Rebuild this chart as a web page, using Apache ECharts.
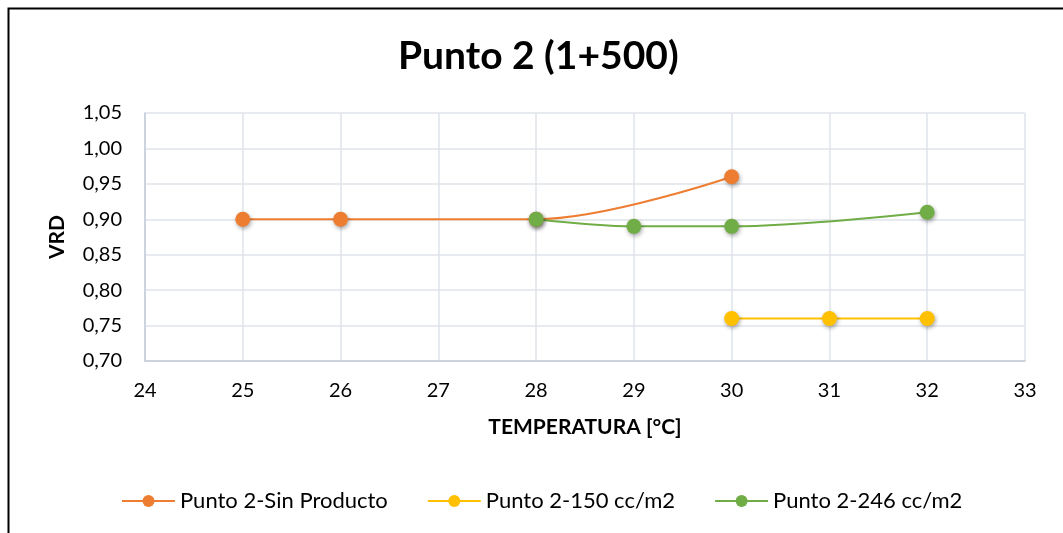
<!DOCTYPE html>
<html>
<head>
<meta charset="utf-8">
<script src="https://cdn.jsdelivr.net/npm/echarts@6/dist/echarts.min.js"></script>
<style>
  html, body { margin: 0; padding: 0; background: #fff; }
  #chart { width: 1063px; height: 533px; }
</style>
</head>
<body>
<div id="chart"></div>
<script>
// VRD vs temperature, three application rates at Punto 2
const sinProductoX = [25, 26, 28, 30];
const sinProductoY = [0.90, 0.90, 0.90, 0.96];
const cc150X = [30, 31, 32];
const cc150Y = [0.76, 0.76, 0.76];
const cc246X = [28, 29, 30, 32];
const cc246Y = [0.90, 0.89, 0.89, 0.91];
const seriesNames = ['Punto 2-Sin Producto', 'Punto 2-150 cc/m2', 'Punto 2-246 cc/m2'];
const seriesColors = ['#ED7D31', '#FFC000', '#70AD47'];

const pairs = (xs, ys) => xs.map((x, i) => [x, ys[i]]);
const FONT = 'Lato, "Open Sans", sans-serif';

function lineSeries(name, color, data) {
  return {
    name, type: 'line', data, smooth: 0.35,
    symbol: 'circle', symbolSize: 15,
    lineStyle: { color, width: 2 },
    itemStyle: {
      color,
      shadowBlur: 4, shadowColor: 'rgba(0,0,0,0.35)',
      shadowOffsetX: 1, shadowOffsetY: 2
    },
    emphasis: { disabled: true }
  };
}

const chart = echarts.init(document.getElementById('chart'), null, { renderer: 'canvas' });
chart.setOption({
  animation: false,
  backgroundColor: '#fff',
  textStyle: { fontFamily: FONT },
  title: {
    text: 'Punto 2 (1+500)',
    left: 393, top: 32,
    textStyle: { fontFamily: FONT, fontSize: 39, fontWeight: 'bold', color: '#000' }
  },
  legend: {
    top: 485, left: 116,
    itemWidth: 53, itemHeight: 15, itemGap: 39,
    textStyle: { fontFamily: FONT, fontSize: 22, color: '#000' },
    data: seriesNames
  },
  grid: { left: 145, right: 38, top: 113, bottom: 172, containLabel: false },
  xAxis: {
    type: 'value', min: 24, max: 33, interval: 1,
    name: 'TEMPERATURA [°C]', nameLocation: 'middle', nameGap: 56,
    nameTextStyle: { fontFamily: FONT, fontSize: 21, fontWeight: 'bold', color: '#000' },
    axisLine: { show: true, lineStyle: { color: '#c3cbd8', width: 1.5 } },
    axisTick: { show: false },
    axisLabel: { fontFamily: FONT, fontSize: 20, color: '#000', margin: 20 },
    splitLine: { show: true, lineStyle: { color: '#dfe3ea', width: 1.5 } }
  },
  yAxis: {
    type: 'value', min: 0.70, max: 1.05, interval: 0.05,
    name: 'VRD', nameLocation: 'middle', nameGap: 77, nameRotate: 90,
    nameTextStyle: { fontFamily: FONT, fontSize: 21, fontWeight: 'bold', color: '#000' },
    axisLine: { show: true, lineStyle: { color: '#c3cbd8', width: 1.5 } },
    axisTick: { show: false },
    axisLabel: {
      fontFamily: FONT, fontSize: 20, color: '#000', margin: 23,
      formatter: v => v.toFixed(2).replace('.', ',')
    },
    splitLine: { show: true, lineStyle: { color: '#dfe3ea', width: 1.5 } }
  },
  graphic: [{
    type: 'rect', silent: true, z: 100,
    shape: { x: 8.5, y: 8.5, width: 1200, height: 700 },
    style: { fill: 'none', stroke: '#000', lineWidth: 2 }
  }],
  series: [
    lineSeries(seriesNames[0], seriesColors[0], pairs(sinProductoX, sinProductoY)),
    lineSeries(seriesNames[1], seriesColors[1], pairs(cc150X, cc150Y)),
    lineSeries(seriesNames[2], seriesColors[2], pairs(cc246X, cc246Y))
  ]
});
</script>
</body>
</html>
